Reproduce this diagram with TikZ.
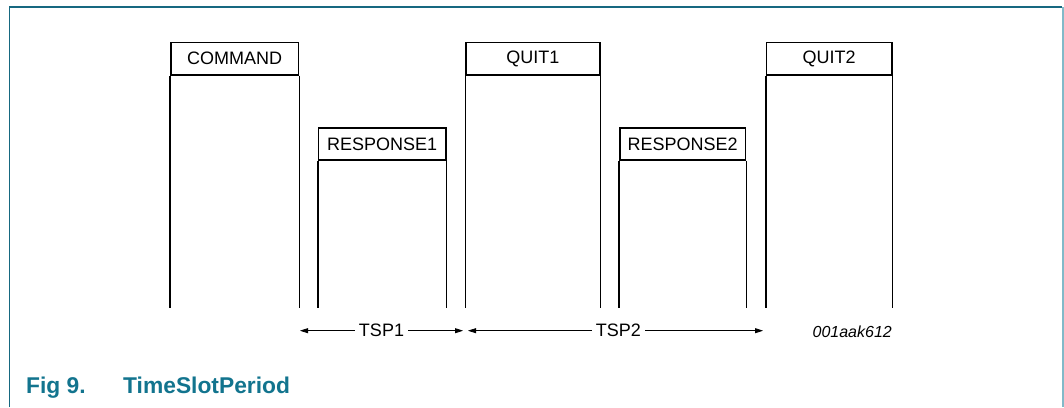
\documentclass[tikz,border=0pt]{standalone}
\usepackage{fontspec}
\setmainfont{Liberation Sans}
\usetikzlibrary{arrows.meta}
\definecolor{frameteal}{RGB}{22,104,128}
\definecolor{framelight}{RGB}{130,185,200}
\definecolor{capteal}{RGB}{18,116,142}
\tikzset{
  hdr/.style={draw=black, line width=1.6pt, inner sep=0pt, anchor=north west, font=\fontsize{18}{20}\selectfont},
  slotline/.style={draw=black, line width=1.6pt},
  dim/.style={draw=black, line width=0.8pt, {Triangle[length=8pt,width=5pt]}-{Triangle[length=8pt,width=5pt]}},
  dimlabel/.style={fill=white, inner xsep=4pt, inner ysep=1pt, font=\fontsize{18}{20}\selectfont},
  frameline/.style={draw=frameteal, line width=1.3pt},
  caption/.style={text=capteal, font=\fontsize{22.8}{24}\selectfont\bfseries, inner sep=0pt, anchor=base west}
}
\begin{document}
\begin{tikzpicture}[x=1pt,y=-1pt]
\useasboundingbox (0,0) rectangle (1064,407);
% frame
\draw[frameline] (9.5,407) -- (9.5,7) -- (1062,7);
\draw[draw=framelight, line width=2pt] (1063,7) -- (1063,407);
% baseline coordinate for slot lines
\coordinate (base) at (0,308);
% headers
\node[hdr, minimum width=127.7pt, minimum height=32.3pt] (cmd) at (170,41.7) {COMMAND};
\node[hdr, minimum width=127.3pt, minimum height=32.3pt] (r1) at (317.7,127) {RESPONSE1};
\node[hdr, minimum width=133.7pt, minimum height=32.3pt] (q1) at (465.3,41.7) {QUIT1};
\node[hdr, minimum width=125.7pt, minimum height=32.3pt] (r2) at (619,127) {RESPONSE2};
\node[hdr, minimum width=125.3pt, minimum height=32.3pt] (q2) at (765.7,41.7) {QUIT2};
% slot lines
\foreach \n in {cmd,r1,q1,r2,q2}{
  \draw[slotline] (\n.south west) -- (\n.south west |- base);
  \draw[slotline] (\n.south east) -- (\n.south east |- base);
}
% dimension arrows
\coordinate (t1a) at (300,330.7);
\coordinate (t1b) at (463,330.7);
\coordinate (t2a) at (468,330.7);
\coordinate (t2b) at (763,330.7);
\draw[dim] (t1a) -- node[dimlabel] (tsp1) {TSP1} (t1b);
\draw[dim] (t2a) -- node[dimlabel, pos=0.51] (tsp2) {TSP2} (t2b);
% figure id
\node[font=\fontsize{16}{18}\selectfont\itshape, inner sep=0pt, anchor=base east] (fid) at (892,337) {001aak612};
% caption
\node[caption] (fig) at (26,393) {Fig 9.};
\node[caption] (title) at (123,393) {TimeSlotPeriod};
\end{tikzpicture}
\end{document}
